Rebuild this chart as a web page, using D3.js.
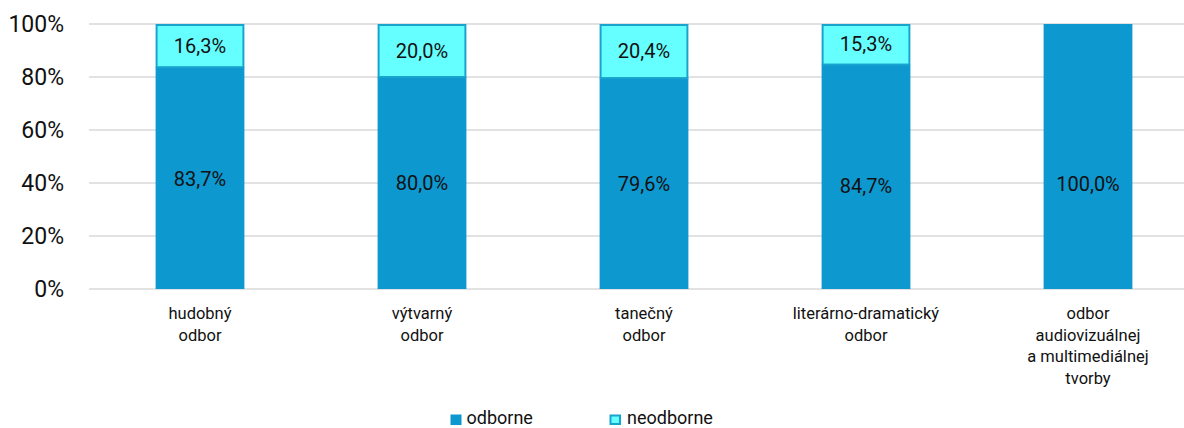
<!DOCTYPE html>
<html><head><meta charset="utf-8">
<script src="https://cdn.jsdelivr.net/npm/d3@7"></script>
<style>
html,body{margin:0;padding:0;background:#fff;}
svg{display:block;font-family:Roboto,"Noto Sans",sans-serif;}
</style></head>
<body>
<svg id="chart" width="1184" height="428"></svg>
<script>
const categories = ["hudobný\nodbor", "výtvarný\nodbor", "tanečný\nodbor", "literárno-dramatický\nodbor", "odbor\naudiovizuálnej\na multimediálnej\ntvorby"];
const odborne = [83.7, 80.0, 79.6, 84.7, 100.0];
const neodborne = [16.3, 20.0, 20.4, 15.3, 0.0];
const seriesNames = ["odborne", "neodborne"];
const yTicks = [0, 20, 40, 60, 80, 100];
// where (in % units) the odborne value labels sit, as placed in the original
const odborneLabelAt = [41.4, 39.9, 39.8, 38.9, 39.6];

const colBlue = "#0e98d0", colCyan = "#66ffff", colCyanStroke = "#19a3cf";
const svg = d3.select("#chart");
const W = 1184, H = 428;
const x = d3.scaleBand().domain(categories).range([89, 1199]).paddingInner(0.6).paddingOuter(0.3);
const y = d3.scaleLinear().domain([0, 100]).range([289, 24]);
const fmt = v => d3.format(".1f")(v).replace(".", ",") + "%";

// gridlines
svg.append("g").selectAll("line").data(yTicks).join("line")
  .attr("x1", 89).attr("x2", W)
  .attr("y1", d => y(d)).attr("y2", d => y(d))
  .attr("stroke", "#d9d9d9").attr("stroke-width", 1.5);

// y tick labels
svg.append("g").selectAll("text").data(yTicks).join("text")
  .attr("x", 64).attr("y", d => y(d)).attr("dy", "0.36em")
  .attr("text-anchor", "end").attr("font-size", 23).attr("fill", "#111")
  .text(d => d + "%");

const rows = categories.map((c, i) => ({c, a: odborne[i], b: neodborne[i], la: odborneLabelAt[i]}));

// odborne bars
svg.append("g").selectAll("rect").data(rows).join("rect")
  .attr("x", d => x(d.c)).attr("width", x.bandwidth())
  .attr("y", d => y(d.a)).attr("height", d => y(0) - y(d.a))
  .attr("fill", colBlue);

// neodborne bars
const nb = rows.filter(d => d.b > 0);
svg.append("g").selectAll("rect").data(nb).join("rect")
  .attr("x", d => x(d.c) + 1).attr("width", x.bandwidth() - 2)
  .attr("y", d => y(d.a + d.b) + 1).attr("height", d => y(d.a) - y(d.a + d.b) - 1)
  .attr("fill", colCyan).attr("stroke", colCyanStroke).attr("stroke-width", 2);

// value labels
svg.append("g").selectAll("text").data(rows).join("text")
  .attr("x", d => x(d.c) + x.bandwidth() / 2)
  .attr("y", d => y(d.la)).attr("dy", "0.36em")
  .attr("text-anchor", "middle").attr("font-size", 20).attr("fill", "#111")
  .text(d => fmt(d.a));
svg.append("g").selectAll("text").data(nb).join("text")
  .attr("x", d => x(d.c) + x.bandwidth() / 2)
  .attr("y", d => (y(d.a) + y(d.a + d.b)) / 2).attr("dy", "0.36em")
  .attr("text-anchor", "middle").attr("font-size", 20).attr("fill", "#111")
  .text(d => fmt(d.b));

// category labels
const cl = svg.append("g").selectAll("text").data(categories).join("text")
  .attr("x", d => x(d) + x.bandwidth() / 2).attr("y", 319)
  .attr("text-anchor", "middle").attr("font-size", 16.5).attr("fill", "#111");
cl.each(function(d) {
  const t = d3.select(this);
  d.split("\n").forEach((ln, i) => {
    t.append("tspan").attr("x", x(d) + x.bandwidth() / 2).attr("dy", i === 0 ? 0 : 21.6).text(ln);
  });
});

// legend
const lg = svg.append("g");
const legendX = [450.5, 609.5];
seriesNames.forEach((n, i) => {
  const g = lg.append("g").attr("transform", `translate(${legendX[i]},0)`);
  if (i === 0) {
    g.append("rect").attr("x", 0).attr("y", 414.5).attr("width", 11).attr("height", 10.5).attr("fill", colBlue);
  } else {
    g.append("rect").attr("x", 1).attr("y", 415.5).attr("width", 9.5).attr("height", 8.5)
      .attr("fill", colCyan).attr("stroke", colCyanStroke).attr("stroke-width", 2);
  }
  g.append("text").attr("x", i === 0 ? 16 : 17.5).attr("y", 423.5).attr("font-size", 18).attr("fill", "#111").text(n);
});
</script>
</body></html>
